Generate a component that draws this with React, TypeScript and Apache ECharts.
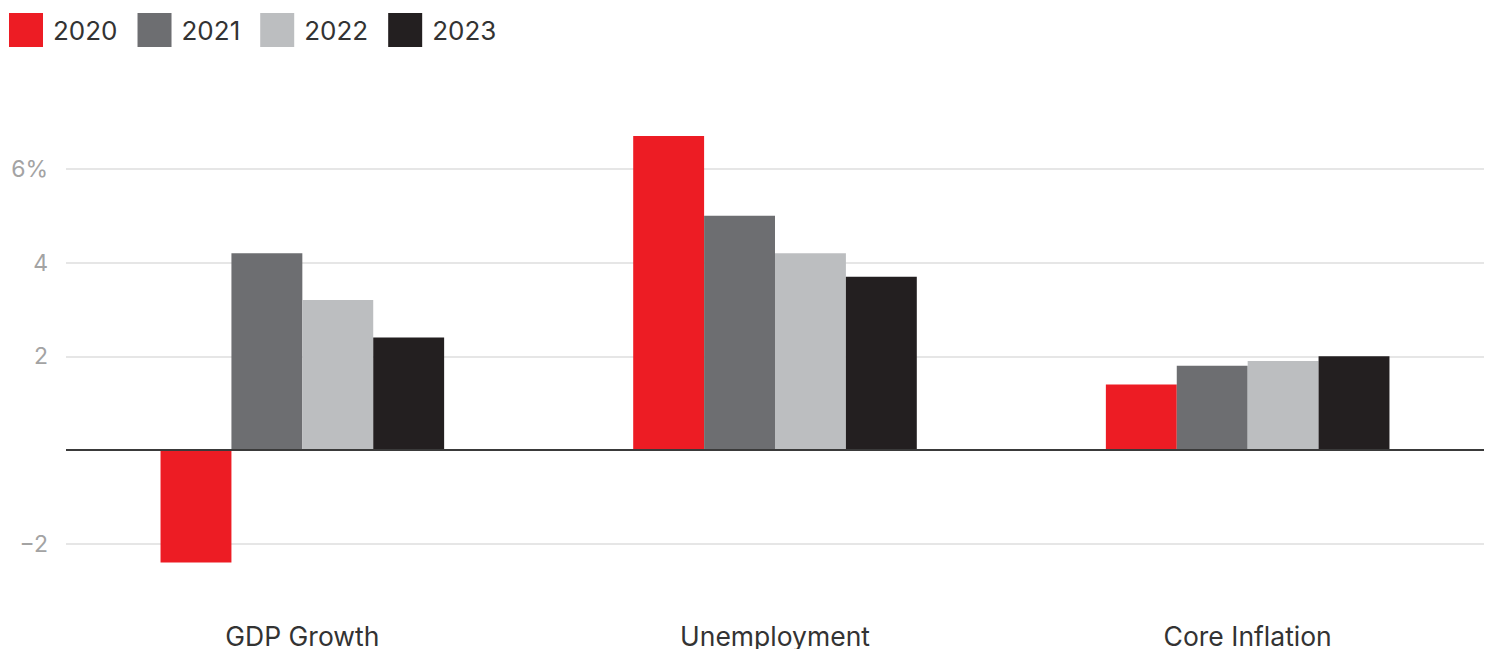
import React, { useEffect, useRef } from "react";
import * as echarts from "echarts";

const categories = ["GDP Growth", "Unemployment", "Core Inflation"];
const years = ["2020", "2021", "2022", "2023"];
const values2020 = [-2.4, 6.7, 1.4];
const values2021 = [4.2, 5.0, 1.8];
const values2022 = [3.2, 4.2, 1.9];
const values2023 = [2.4, 3.7, 2.0];
const colors = ["#ED1C24", "#6D6E71", "#BCBEC0", "#231F20"];

const FONT = "Inter, 'Open Sans', sans-serif";

export default function App() {
  const ref = useRef<HTMLDivElement>(null);
  useEffect(() => {
    if (!ref.current) return;
    const chart = echarts.init(ref.current, null, { renderer: "svg" });
    const seriesValues = [values2020, values2021, values2022, values2023];
    chart.setOption({
      animation: false,
      textStyle: { fontFamily: FONT },
      color: colors,
      legend: {
        left: 9,
        top: 13,
        padding: 0,
        itemWidth: 34,
        itemHeight: 34,
        itemGap: 20,
        icon: "rect",
        textStyle: { fontSize: 26, color: "#333", fontFamily: FONT, padding: [0, 0, 0, 5] },
        data: years,
      },
      grid: { left: 66, right: 10, top: 122, bottom: 31, containLabel: false },
      xAxis: {
        type: "category",
        data: categories,
        position: "bottom",
        axisLine: { show: false, onZero: false },
        axisTick: { show: false },
        axisLabel: { fontSize: 26.5, color: "#333", margin: 8, fontFamily: FONT },
      },
      yAxis: {
        type: "value",
        min: -3.5,
        max: 7,
        splitNumber: 5,
        axisLine: { show: false },
        axisTick: { show: false },
        axisLabel: {
          fontSize: 23,
          color: "#a3a3a3",
          margin: 18,
          showMinLabel: false,
          showMaxLabel: false,
          fontFamily: FONT,
          formatter: (v: number) => {
            if (v === 0) return "";
            if (v === 6) return "6%";
            if (v < 0) return "\u2212" + Math.abs(v);
            return String(v);
          },
        },
        splitLine: {
          showMinLine: false,
          showMaxLine: false,
          lineStyle: { color: "#e6e6e6", width: 2 },
        },
      },
      series: years.map((y, i) => ({
        name: y,
        type: "bar",
        data: seriesValues[i],
        barGap: "0%",
        barCategoryGap: "40%",
        itemStyle: { color: colors[i] },
        ...(i === 3
          ? {
              markLine: {
                silent: true,
                symbol: "none",
                label: { show: false },
                lineStyle: { color: "#3a3a3a", width: 2, type: "solid" },
                data: [{ yAxis: 0 }],
              },
            }
          : {}),
      })),
    });
    return () => chart.dispose();
  }, []);
  return (
    <div
      ref={ref}
      style={{ position: "fixed", left: 0, top: 0, width: 1494, height: 649, background: "#fff" }}
    />
  );
}
